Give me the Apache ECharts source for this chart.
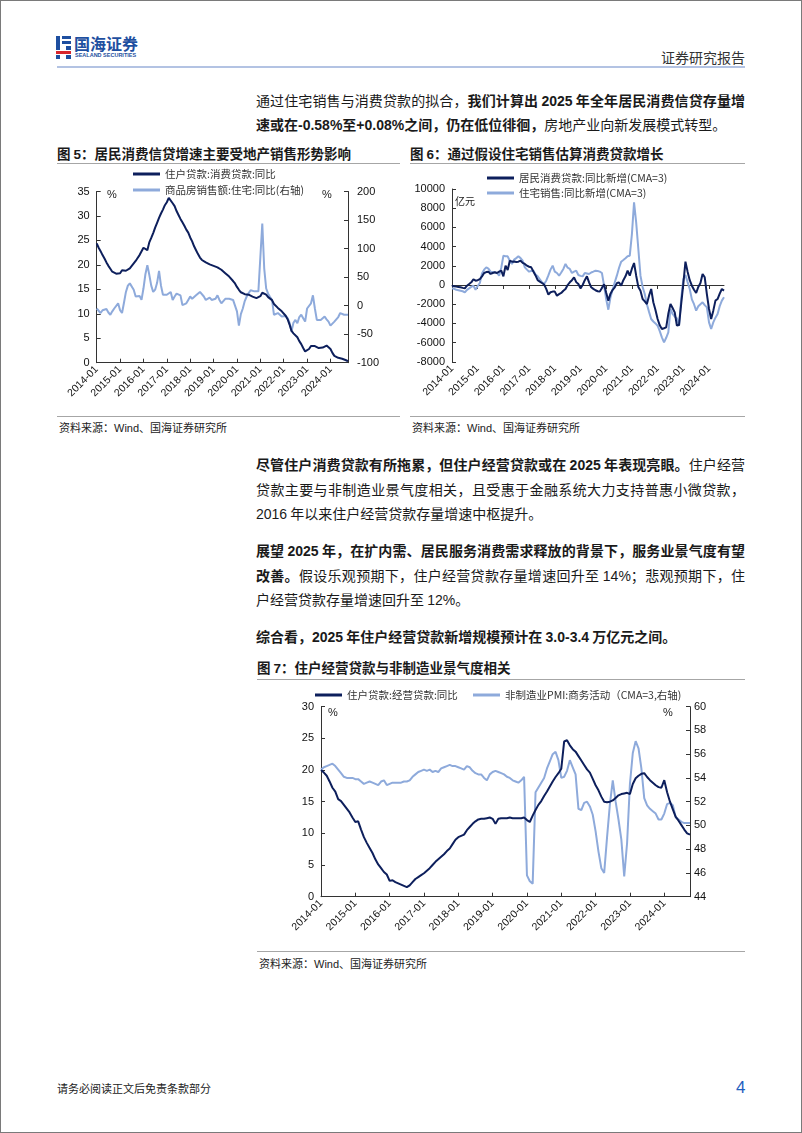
<!DOCTYPE html>
<html><head><meta charset="utf-8">
<script src="https://cdn.jsdelivr.net/npm/echarts@6.0.0/dist/echarts.min.js"></script>
<style>
html,body{margin:0;padding:0;background:#fff;}
#page{position:relative;width:802px;height:1133px;overflow:hidden;font-family:"Noto Sans CJK SC",sans-serif;color:#1a1a1a;}
#frame{position:absolute;left:0;top:0;width:802px;height:1133px;box-sizing:border-box;border:1px solid #7a7a7a;pointer-events:none;}
.ln{position:absolute;left:256px;width:489px;font-size:14px;line-height:20px;height:20px;text-align:justify;text-align-last:justify;}
.last{text-align-last:left;}
b{font-weight:700;}
.num{font-family:"Liberation Sans",Arial,sans-serif;}
.title{position:absolute;font-size:13.5px;font-weight:700;line-height:18px;white-space:nowrap;}
.src{position:absolute;font-size:11px;line-height:14px;white-space:nowrap;color:#222;}
.hr{position:absolute;height:0;border-top:1.5px solid #a6a6a6;}
.chart{position:absolute;}
.blk{position:absolute;}
</style></head>
<body>
<div id="page">
  <!-- logo -->
  <div class="blk" style="left:56px;top:36px;width:4px;height:14px;background:#1e4fa0;"></div>
  <div class="blk" style="left:62px;top:36px;width:9px;height:3px;background:#1e4fa0;"></div>
  <div class="blk" style="left:62px;top:41px;width:9px;height:3px;background:#1e4fa0;"></div>
  <div class="blk" style="left:66px;top:46px;width:5px;height:4px;background:#1e4fa0;"></div>
  <div class="blk" style="left:56px;top:51px;width:15px;height:3px;background:#d8262c;"></div>
  <div class="blk" style="left:56px;top:55px;width:4px;height:4px;background:#1e4fa0;"></div>
  <div class="blk" style="left:66px;top:55px;width:5px;height:4px;background:#1e4fa0;"></div>
  <div class="blk" style="left:74px;top:34px;font-size:16px;line-height:18px;font-weight:700;color:#1e4fa0;white-space:nowrap;">国海证券</div>
  <div class="blk" style="left:75px;top:52px;font-size:5.5px;line-height:6px;font-weight:700;color:#1e4fa0;white-space:nowrap;font-family:'Liberation Sans',Arial,sans-serif;">SEALAND SECURITIES</div>
  <div class="blk" style="right:57px;top:48px;font-size:14px;line-height:18px;color:#333;white-space:nowrap;">证券研究报告</div>
  <div class="blk" style="left:57px;top:66px;width:688px;height:2px;background:#b3c3e3;"></div>

  <!-- paragraph 1 -->
  <div class="ln" style="top:90px;">通过住宅销售与消费贷款的拟合，<b>我们计算出 <span class="num">2025</span> 年全年居民消费信贷存量增</b></div>
  <div class="ln last" style="top:114px;"><b>速或在<span class="num">-0.58%</span>至<span class="num">+0.08%</span>之间，仍在低位徘徊，</b>房地产业向新发展模式转型。</div>

  <!-- chart titles -->
  <div class="title" style="left:57px;top:144px;">图 <span class="num">5</span>：居民消费信贷增速主要受地产销售形势影响</div>
  <div class="title" style="left:410px;top:144px;">图 <span class="num">6</span>：通过假设住宅销售估算消费贷款增长</div>
  <div class="hr" style="left:57px;top:163px;width:343px;"></div>
  <div class="hr" style="left:410px;top:163px;width:335px;"></div>

  <div id="c5" class="chart" style="left:55px;top:165px;width:350px;height:250px;"></div>
  <div id="c6" class="chart" style="left:405px;top:165px;width:350px;height:250px;"></div>

  <div class="hr" style="left:57px;top:416px;width:343px;"></div>
  <div class="hr" style="left:410px;top:416px;width:335px;"></div>
  <div class="src" style="left:59px;top:420px;">资料来源：<span class="num">Wind</span>、国海证券研究所</div>
  <div class="src" style="left:412px;top:420px;">资料来源：<span class="num">Wind</span>、国海证券研究所</div>

  <!-- paragraph 2 -->
  <div class="ln" style="top:454px;"><b>尽管住户消费贷款有所拖累，但住户经营贷款或在 <span class="num">2025</span> 年表现亮眼。</b>住户经营</div>
  <div class="ln" style="top:479px;">贷款主要与非制造业景气度相关，且受惠于金融系统大力支持普惠小微贷款，</div>
  <div class="ln last" style="top:503px;"><span class="num">2016</span> 年以来住户经营贷款存量增速中枢提升。</div>

  <!-- paragraph 3 -->
  <div class="ln" style="top:540px;"><b>展望 <span class="num">2025</span> 年，在扩内需、居民服务消费需求释放的背景下，服务业景气度有望</b></div>
  <div class="ln" style="top:565px;"><b>改善。</b>假设乐观预期下，住户经营贷款存量增速回升至 <span class="num">14%</span>；悲观预期下，住</div>
  <div class="ln last" style="top:589px;">户经营贷款存量增速回升至 <span class="num">12%</span>。</div>

  <!-- paragraph 4 -->
  <div class="ln last" style="top:626px;"><b>综合看，<span class="num">2025</span> 年住户经营贷款新增规模预计在 <span class="num">3.0-3.4</span> 万亿元之间。</b></div>

  <div class="title" style="left:257px;top:658px;">图 <span class="num">7</span>：住户经营贷款与非制造业景气度相关</div>
  <div class="hr" style="left:257px;top:679px;width:488px;"></div>
  <div id="c7" class="chart" style="left:255px;top:682px;width:500px;height:268px;"></div>
  <div class="hr" style="left:257px;top:951px;width:488px;"></div>
  <div class="src" style="left:259px;top:956px;">资料来源：<span class="num">Wind</span>、国海证券研究所</div>

  <div class="src" style="left:57px;top:1081px;">请务必阅读正文后免责条款部分</div>
  <div class="blk num" style="left:736px;top:1078px;font-size:17px;line-height:20px;color:#1f5fbf;">4</div>
  <div id="frame"></div>
</div>
<script>
// ---------- data ----------
const startYear = 2014;
const months = [];
for (let y = startYear; y <= 2024; y++) for (let m = 1; m <= 12; m++) months.push(y + '-' + (m < 10 ? '0' + m : m));
const cats5 = months.slice(0, 130); // 2014-01 .. 2024-10
const cats6 = months.slice(0, 128); // 2014-01 .. 2024-08
const cats7 = months.slice(0, 130); // 2014-01 .. 2024-10

// Fig.5 住户贷款:消费贷款:同比 (%)
const consumerLoanYoY = [
 24.4,23.5,22.8,22.0,21.3,20.5,19.8,19.2,18.6,18.3,18.2,18.5,
 18.3,18.9,18.5,18.8,19.0,19.3,19.8,20.3,20.8,21.4,22.0,22.4,
 23.5,23.9,23.0,24.6,25.5,26.5,27.6,28.6,29.6,30.5,31.3,32.2,
 32.8,33.7,33.3,32.6,32.0,31.0,30.2,29.4,28.7,28.0,27.2,26.6,
 25.6,24.8,23.8,23.0,22.2,21.5,21.0,20.8,20.5,20.4,20.1,20.0,
 19.8,19.7,19.5,19.2,19.0,18.6,18.3,18.0,17.6,17.2,16.7,16.2,
 15.5,14.9,14.4,14.1,14.0,14.0,13.9,13.7,13.5,13.4,13.2,13.0,
 13.6,14.3,14.5,13.9,13.4,13.0,12.8,12.0,11.8,11.2,10.8,10.5,
 10.2,9.6,8.9,7.8,6.5,6.0,5.6,5.2,4.4,3.8,3.0,2.3,
 2.2,2.8,3.4,3.5,3.4,3.2,3.0,2.9,3.1,3.3,3.5,3.4,
 2.8,2.0,1.4,1.2,1.0,0.9,0.8,0.7,0.5,0.3
];
// Fig.5 商品房销售额:住宅:同比 (%, right axis)
const housingSalesYoY = [
 -5,-9,-13,-8,-6,-6,-12,-16,-10,-5,-3,4,
 -8,-13,5,24,35,39,40,28,16,18,17,10,
 30,55,71,54,35,24,28,40,61,35,19,19,
 19,22,24,10,16,21,19,18,1,4,4,10,
 16,12,10,18,20,24,21,16,10,12,14,10,
 7,12,18,10,4,8,12,12,12,12,10,7,
 -10,-35,-15,-5,8,16,22,27,24,25,26,25,
 23,144,65,30,21,15,10,-16,-14,-13,-16,-19,
 -16,-18,-22,-30,-45,-30,-25,-31,-20,-16,-22,-28,
 -5,-2,4,18,-5,-25,-25,-25,-22,-19,-24,-28,
 -35,-32,-28,-25,-20,-13,-14,-16,-16,-16
];

// Fig.6 居民消费贷款:同比新增(CMA=3) (亿元)
const consumerLoanAdd = [
 -70,-120,-170,-200,-240,-300,-350,-70,100,280,600,450,
 500,620,900,1250,1350,1390,1150,1250,1320,1250,1400,1490,
 900,2010,1560,2530,2430,2450,2400,2430,2530,2300,2190,2010,
 1900,1840,1400,1000,500,350,210,50,-400,-1000,-760,-690,
 -690,-1110,-950,-830,-600,-420,0,280,500,800,300,100,
 -350,0,500,900,280,-240,-400,-550,-650,-690,-300,70,
 -800,-1630,-900,-500,-240,200,250,-70,500,900,1490,970,
 1700,2290,970,-200,-600,-1460,-1700,-1980,-1110,-420,-1800,-2600,
 -3540,-4200,-4580,-4500,-4410,-3000,-1980,-2400,-2850,-4230,-4170,-2000,
 100,2430,1390,500,-70,-500,-830,-200,200,1150,800,-940,
 -2500,-3540,-2670,-1630,-1460,-900,-420,-590
];
// Fig.6 住宅销售:同比新增(CMA=3) (亿元)
const housingSalesAdd = [
 -350,-400,-490,-540,-590,-650,-760,-500,-350,-200,-70,-490,
 -100,210,1200,1600,1840,1700,1390,1350,1300,1250,970,1800,
 3050,3000,2990,2500,2190,2640,2800,2990,2800,2530,1840,1600,
 1390,1450,1490,1100,900,600,300,100,450,1000,1600,2010,
 1400,1250,970,1300,1670,2190,1800,1670,1250,1400,1490,1040,
 950,900,1250,1200,1150,1300,1390,1490,1450,1390,1250,-70,
 -1500,-2570,-1280,-500,280,1000,1800,2430,2600,2780,3000,3050,
 5300,8600,6500,3750,970,-200,-940,-2000,-2800,-3540,-3800,-4000,
 -4240,-4800,-5450,-5970,-5500,-4930,-2500,-3020,-3300,-3470,-4240,-1500,
 600,1040,300,-420,-1500,-2000,-2670,-2220,-2000,-1800,-2100,-2330,
 -3890,-4580,-3890,-3400,-3020,-2200,-1630,-1280
];

// Fig.7 住户贷款:经营贷款:同比 (%)
const businessLoanYoY = [
 20.0,19.6,19.1,18.2,17.2,16.6,15.4,15.1,14.5,13.9,13.3,12.5,
 11.8,11.9,10.6,9.4,8.5,7.7,6.9,5.9,5.1,4.5,3.9,3.5,
 2.5,2.6,2.3,2.1,1.9,1.7,1.5,1.8,2.3,2.8,3.1,3.4,
 3.7,4.1,4.5,5.0,5.5,5.9,6.3,6.7,7.2,7.6,8.3,9.0,
 9.4,9.6,9.8,10.5,11.0,11.5,11.9,12.2,12.3,12.3,12.4,12.5,
 12.3,11.5,12.3,12.4,12.4,12.4,12.5,12.4,12.4,12.4,12.4,12.5,
 12.1,11.8,12.8,13.7,14.5,15.1,15.9,16.6,17.4,18.2,18.9,19.5,
 20.2,24.5,24.7,23.9,23.3,22.9,22.2,21.5,20.8,20.1,19.6,18.6,
 17.6,16.8,15.8,15.0,14.9,15.0,15.2,15.6,16.0,16.2,16.3,16.4,
 16.2,17.8,18.7,19.1,19.4,19.5,18.9,18.4,18.0,17.6,17.3,17.2,
 18.4,16.5,15.0,13.8,12.6,12.0,11.3,10.6,10.0,9.8
];
// Fig.7 非制造业PMI:商务活动(CMA=3) (right axis)
const nonMfgPMI = [
 54.7,54.9,55.0,55.1,55.2,55.0,54.7,54.4,54.1,54.0,54.0,54.0,
 53.9,53.9,53.7,53.5,53.6,53.7,53.6,53.5,53.4,53.7,53.8,53.4,
 53.5,53.6,53.6,53.6,53.6,53.7,53.7,53.8,54.1,54.3,54.5,54.6,
 54.7,54.6,54.7,54.5,54.6,54.5,54.8,54.9,55.0,55.1,55.0,55.0,
 54.9,54.8,54.7,55.0,54.9,54.6,54.4,54.3,54.3,54.0,53.8,54.3,
 54.5,54.6,54.5,54.4,54.3,54.1,54.0,53.8,53.7,53.6,53.8,54.1,
 45.8,45.3,45.1,52.8,53.2,53.6,54.0,54.8,55.4,56.0,56.2,55.5,
 54.0,54.1,54.6,55.5,54.9,54.3,51.4,51.3,51.9,52.0,51.6,50.9,
 49.5,47.8,46.4,46.0,49.0,51.8,53.8,52.0,50.5,48.8,45.7,48.5,
 53.5,56.1,57.1,56.5,54.8,52.3,51.7,51.4,51.2,51.0,50.5,50.5,
 51.0,51.8,51.9,51.7,50.7,50.5,50.3,50.2,50.2,50.2
];

// ---------- style ----------
const DARK = '#0d1f5c', LIGHT = '#8eaadb', AX = '#333';
const NUMF = '"Liberation Sans", Arial, sans-serif';
const CJKF = '"Noto Sans CJK SC", sans-serif';
const tickLbl = {fontFamily: NUMF, fontSize: 11, color: '#111'};
const plainNum = function (v) { return String(v); };
function xAxisCat(cats, extra) {
  return Object.assign({
    type: 'category', data: cats, boundaryGap: false,
    axisLine: {lineStyle: {color: AX, width: 1}},
    axisTick: {inside: true, length: 4, interval: 11, lineStyle: {color: AX}},
    axisLabel: Object.assign({interval: 11, rotate: 45, margin: 5, hideOverlap: false}, tickLbl, {fontSize: 10.5}),
    splitLine: {show: false}
  }, extra || {});
}
function yAxisVal(min, max, interval, pos, margin) {
  return {
    type: 'value', min: min, max: max, interval: interval, position: pos,
    axisLine: {show: true, onZero: false, lineStyle: {color: AX, width: 1}},
    axisTick: {show: true, inside: true, length: 4, lineStyle: {color: AX}},
    axisLabel: Object.assign({margin: margin, formatter: plainNum}, tickLbl),
    splitLine: {show: false}
  };
}
function legendOne(name, left, top) {
  return {data: [name], left: left, top: top, orient: 'horizontal', icon: 'rect',
    itemWidth: 27, itemHeight: 3, padding: 0,
    textStyle: {fontFamily: CJKF, fontSize: 10.5, color: '#333', lineHeight: 14}};
}
function lineSeries(name, data, color, yIdx) {
  return {name: name, type: 'line', data: data, yAxisIndex: yIdx || 0, showSymbol: false, symbol: 'none',
    lineStyle: {color: color, width: 2}, itemStyle: {color: color}, animation: false};
}
function txt(x, y, s, font, size) {
  return {type: 'text', x: x, y: y, style: {text: s, fill: '#222', fontSize: size || 11, fontFamily: font || NUMF, align: 'left', verticalAlign: 'middle'}};
}

// ---------- Fig.5 ----------
const N5a = '住户贷款:消费贷款:同比', N5b = '商品房销售额:住宅:同比(右轴)';
echarts.init(document.getElementById('c5'), null, {renderer: 'canvas'}).setOption({
  animation: false,
  grid: {left: 41.7, top: 26.5, width: 251.3, height: 171.2},
  legend: [legendOne(N5a, 78, 2), legendOne(N5b, 78, 18)],
  xAxis: xAxisCat(cats5),
  yAxis: [yAxisVal(0, 35, 5, 'left', 7), yAxisVal(-100, 200, 50, 'right', 9)],
  series: [lineSeries(N5b, housingSalesYoY, LIGHT, 1), lineSeries(N5a, consumerLoanYoY, DARK, 0)],
  graphic: [txt(52, 30, '%'), txt(267, 30, '%')]
});

// ---------- Fig.6 ----------
const N6a = '居民消费贷款:同比新增(CMA=3)', N6b = '住宅销售:同比新增(CMA=3)';
echarts.init(document.getElementById('c6'), null, {renderer: 'canvas'}).setOption({
  animation: false,
  grid: {left: 47, top: 24, width: 272, height: 172.8},
  legend: [legendOne(N6a, 82, 6), legendOne(N6b, 82, 21)],
  xAxis: [
    xAxisCat(cats6, {axisLine: {show: false, onZero: false}, axisTick: {show: false}}),
    xAxisCat(cats6, {axisLine: {show: true, onZero: true, lineStyle: {color: AX, width: 1}}, axisLabel: {show: false}})
  ],
  yAxis: [yAxisVal(-8000, 10000, 2000, 'left', 7)],
  series: [
    Object.assign(lineSeries(N6b, housingSalesAdd, LIGHT, 0), {xAxisIndex: 0}),
    Object.assign(lineSeries(N6a, consumerLoanAdd, DARK, 0), {xAxisIndex: 0})
  ],
  graphic: [txt(50, 36, '亿元', CJKF, 10)]
});

// ---------- Fig.7 ----------
const N7a = '住户贷款:经营贷款:同比', N7b = '非制造业PMI:商务活动（CMA=3,右轴)';
echarts.init(document.getElementById('c7'), null, {renderer: 'canvas'}).setOption({
  animation: false,
  grid: {left: 66, top: 24.7, width: 369, height: 190},
  legend: [legendOne(N7a, 60, 6), legendOne(N7b, 218, 6)],
  xAxis: xAxisCat(cats7),
  yAxis: [yAxisVal(0, 30, 5, 'left', 7), yAxisVal(44, 60, 2, 'right', 4)],
  series: [lineSeries(N7b, nonMfgPMI, LIGHT, 1), lineSeries(N7a, businessLoanYoY, DARK, 0)],
  graphic: [txt(73, 31, '%'), txt(408, 31, '%')]
});
</script>
</body></html>
